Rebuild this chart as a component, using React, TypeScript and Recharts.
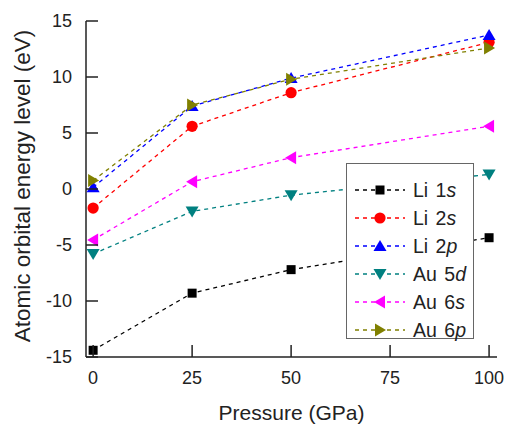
import React from 'react';
import { LineChart, Line, XAxis, YAxis, Legend } from 'recharts';

const pressures = [0, 25, 50, 100];
const li1s = [-14.4, -9.3, -7.2, -4.35];
const li2s = [-1.7, 5.6, 8.6, 13.1];
const li2p = [0.15, 7.4, 9.9, 13.75];
const au5d = [-5.8, -2.0, -0.55, 1.3];
const au6s = [-4.55, 0.65, 2.8, 5.6];
const au6p = [0.75, 7.5, 9.8, 12.6];

const xTicks = [0, 25, 50, 75, 100];
const yTicks = [-15, -10, -5, 0, 5, 10, 15];

type Shape = 'square' | 'circle' | 'up' | 'down' | 'left' | 'right';

const series: { key: string; el: string; orb: string; sub: string; color: string; shape: Shape }[] = [
  { key: 'li1s', el: 'Li', orb: '1', sub: 's', color: '#000000', shape: 'square' },
  { key: 'li2s', el: 'Li', orb: '2', sub: 's', color: '#ff0000', shape: 'circle' },
  { key: 'li2p', el: 'Li', orb: '2', sub: 'p', color: '#0000ff', shape: 'up' },
  { key: 'au5d', el: 'Au', orb: '5', sub: 'd', color: '#008080', shape: 'down' },
  { key: 'au6s', el: 'Au', orb: '6', sub: 's', color: '#ff00ff', shape: 'left' },
  { key: 'au6p', el: 'Au', orb: '6', sub: 'p', color: '#808000', shape: 'right' },
];

const data = pressures.map((p, i) => ({
  p,
  li1s: li1s[i],
  li2s: li2s[i],
  li2p: li2p[i],
  au5d: au5d[i],
  au6s: au6s[i],
  au6p: au6p[i],
}));

const FONT = '"Liberation Sans", Arial, sans-serif';
const INK = '#222';

const Marker = ({ cx, cy, shape, color }: { cx: number; cy: number; shape: Shape; color: string }) => {
  const h = 6.5;
  switch (shape) {
    case 'square':
      return <rect x={cx - 4.5} y={cy - 4.5} width={9} height={9} fill={color} />;
    case 'circle':
      return <circle cx={cx} cy={cy} r={5.6} fill={color} />;
    case 'up':
      return <polygon points={`${cx},${cy - 6} ${cx - h},${cy + 5} ${cx + h},${cy + 5}`} fill={color} />;
    case 'down':
      return <polygon points={`${cx},${cy + 6} ${cx - h},${cy - 5} ${cx + h},${cy - 5}`} fill={color} />;
    case 'left':
      return <polygon points={`${cx - 6},${cy} ${cx + 5},${cy - h} ${cx + 5},${cy + h}`} fill={color} />;
    default:
      return <polygon points={`${cx + 6},${cy} ${cx - 5},${cy - h} ${cx - 5},${cy + h}`} fill={color} />;
  }
};

// inward ticks, drawn by hand
const YTick = (props: any) => {
  const { x, y, payload } = props;
  return (
    <g>
      <line x1={x + 14} x2={x + 26} y1={y} y2={y} stroke={INK} strokeWidth={1.5} />
      <text x={x} y={y} dy="0.36em" textAnchor="end" fontSize={18} fontFamily={FONT} fill={INK}>
        {payload.value}
      </text>
    </g>
  );
};

const XTick = (props: any) => {
  const { x, y, payload } = props;
  return (
    <g>
      <line x1={x} x2={x} y1={y - 14} y2={y - 26} stroke={INK} strokeWidth={1.5} />
      <text x={x} y={y} dy="0.71em" textAnchor="middle" fontSize={18} fontFamily={FONT} fill={INK}>
        {payload.value}
      </text>
    </g>
  );
};

const LegendBox = () => (
  <div style={{ width: 128, height: 176, border: '1px solid #666', background: '#fff', boxSizing: 'border-box' }}>
    <svg width={126} height={174} style={{ overflow: 'visible', display: 'block' }}>
      {series.map((s, i) => {
        const cy = 26 + i * 28;
        return (
          <g key={s.key}>
            <line x1={8} x2={58} y1={cy} y2={cy} stroke={s.color} strokeWidth={1.3} strokeDasharray="4 4" />
            <Marker cx={33} cy={cy} shape={s.shape} color={s.color} />
            <text x={66} y={cy} dy="0.36em" fontSize={19.5} wordSpacing={2} fontFamily={FONT} fill={INK}>
              {s.el} {s.orb}
              <tspan fontStyle="italic">{s.sub}</tspan>
            </text>
          </g>
        );
      })}
    </svg>
  </div>
);

const YLabel = () => (
  <text x={22} y={186} transform="rotate(-90 22 186)" textAnchor="middle" dominantBaseline="central" fontSize={22.5} fontFamily={FONT} fill={INK}>
    Atomic orbital energy level (eV)
  </text>
);

export default function App() {
  return (
    <div style={{ position: 'absolute', left: 0, top: 0, background: '#fff' }}>
      <LineChart width={506} height={427} data={data} margin={{ top: 21, right: 9, left: 0, bottom: 0 }}>
        <XAxis
          dataKey="p"
          type="number"
          domain={[-1.8, 102]}
          ticks={xTicks}
          height={70}
          tickSize={0}
          tickMargin={14}
          tick={<XTick />}
          axisLine={{ stroke: INK, strokeWidth: 1.5 }}
          tickLine={false}
          label={{ value: 'Pressure (GPa)', position: 'insideBottom', offset: 7, fontSize: 21, fontFamily: FONT, fill: INK }}
        />
        <XAxis xAxisId="top" orientation="top" type="number" domain={[-1.8, 102]} height={0} tick={false} tickLine={false} axisLine={{ stroke: INK, strokeWidth: 1.5 }} />
        <YAxis
          type="number"
          domain={[-15, 15]}
          ticks={yTicks}
          width={86}
          tickSize={0}
          tickMargin={14}
          tick={<YTick />}
          axisLine={{ stroke: INK, strokeWidth: 1.5 }}
          tickLine={false}
          label={{ content: () => <YLabel /> }}
        />
        <YAxis yAxisId="right" orientation="right" type="number" domain={[-15, 15]} width={0} tick={false} tickLine={false} axisLine={{ stroke: INK, strokeWidth: 1.5 }} />
        {series.map((s) => (
          <Line
            key={s.key}
            dataKey={s.key}
            stroke={s.color}
            strokeWidth={1.3}
            strokeDasharray="4 4"
            isAnimationActive={false}
            dot={(p: any) => <Marker key={`${s.key}-${p.index}`} cx={p.cx} cy={p.cy} shape={s.shape} color={s.color} />}
            activeDot={false}
          />
        ))}
        <Legend
          layout="vertical"
          align="center"
          verticalAlign="middle"
          content={() => <LegendBox />}
          wrapperStyle={{ position: 'absolute', left: 346, top: 163, width: 128, height: 176 }}
        />
      </LineChart>
    </div>
  );
}
